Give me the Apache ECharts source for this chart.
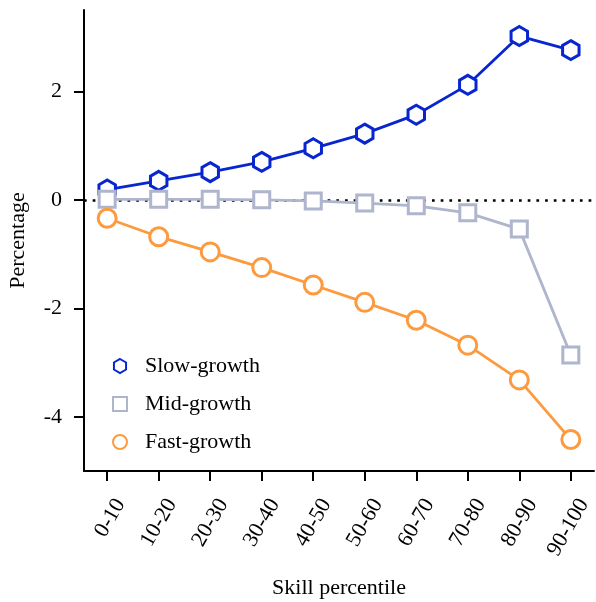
<!DOCTYPE html>
<html><head><meta charset="utf-8">
<script src="https://cdn.jsdelivr.net/npm/echarts@6/dist/echarts.min.js"></script>
<style>html,body{margin:0;padding:0;background:#fff}#c{width:596px;height:602px}</style>
</head><body><div id="c"></div>
<script>
const categories = ['0-10','10-20','20-30','30-40','40-50','50-60','60-70','70-80','80-90','90-100'];
const slowGrowth = [0.19, 0.35, 0.51, 0.70, 0.95, 1.22, 1.57, 2.12, 3.02, 2.76];
const midGrowth  = [0.01, 0.01, 0.01, 0.00, -0.02, -0.06, -0.11, -0.24, -0.54, -2.86];
const fastGrowth = [-0.34, -0.68, -0.96, -1.25, -1.57, -1.89, -2.22, -2.68, -3.32, -4.42];
const yTicks = [-4, -2, 0, 2];
const seriesNames = ['Slow-growth', 'Mid-growth', 'Fast-growth'];

const FONT = 'Liberation Serif';
const hexagon = 'path://M0,-10L8.66,-5L8.66,5L0,10L-8.66,5L-8.66,-5Z';
const square = 'path://M0,0L10,0L10,10L0,10Z';
const idx = categories.map((_, i) => i);
const pairs = arr => arr.map((v, i) => [i, v]);

const chart = echarts.init(document.getElementById('c'), null, {renderer: 'canvas'});
function mkSeries(name, data, color, symbol, size) {
  return {
    name, type: 'line', data: pairs(data),
    symbol, symbolSize: size, symbolKeepAspect: true, showAllSymbol: true,
    lineStyle: {color, width: 2.8},
    itemStyle: {color: '#fff', borderColor: color, borderWidth: 3},
    emphasis: {disabled: true}, animation: false
  };
}
const s1 = mkSeries(seriesNames[0], slowGrowth, '#0826cf', hexagon, 19);
const s2 = mkSeries(seriesNames[1], midGrowth, '#aeb5cc', square, 16);
const s3 = mkSeries(seriesNames[2], fastGrowth, '#fd9a3e', 'circle', 18);
s1.markLine = {
  silent: true, symbol: 'none', label: {show: false}, z: 1,
  lineStyle: {color: '#000', width: 2.7, type: [2.7, 6], cap: 'butt'},
  data: [{yAxis: 0}], animation: false
};

chart.setOption({
  animation: false,
  grid: {left: 84, right: 2, top: 10, bottom: 131, containLabel: false, outerBoundsMode: 'none'},
  legend: {
    orient: 'vertical', left: 107, top: 350, itemWidth: 40, itemHeight: 14, itemGap: 16,
    textStyle: {fontFamily: FONT, fontSize: 22, color: '#000'},
    itemStyle: {borderWidth: 2},
    data: [
      {name: seriesNames[0], icon: hexagon},
      {name: seriesNames[1], icon: square},
      {name: seriesNames[2], icon: 'circle'}
    ]
  },
  xAxis: {
    type: 'value', min: -0.45, max: 9.45,
    name: 'Skill percentile', nameLocation: 'middle', nameGap: 106,
    nameTextStyle: {fontFamily: FONT, fontSize: 22, color: '#000'},
    axisLine: {onZero: false, lineStyle: {color: '#000', width: 2}},
    axisTick: {customValues: idx, length: 10, lineStyle: {color: '#000', width: 2}},
    axisLabel: {
      customValues: idx, rotate: 60, margin: 22, verticalAlign: 'top', padding: [4, 0, 0, 0],
      fontFamily: FONT, fontSize: 22, color: '#000',
      formatter: v => categories[Math.round(v)]
    },
    splitLine: {show: false}
  },
  yAxis: {
    type: 'value', min: -5, max: 3.5,
    name: 'Percentage', nameLocation: 'middle', nameGap: 55,
    nameTextStyle: {fontFamily: FONT, fontSize: 22, color: '#000'},
    axisLine: {show: true, onZero: false, lineStyle: {color: '#000', width: 2}},
    axisTick: {show: true, customValues: yTicks, length: 10, lineStyle: {color: '#000', width: 2}},
    axisLabel: {customValues: yTicks, margin: 22, fontFamily: FONT, fontSize: 22, color: '#000'},
    splitLine: {show: false}
  },
  series: [s1, s2, s3]
});
</script></body></html>
